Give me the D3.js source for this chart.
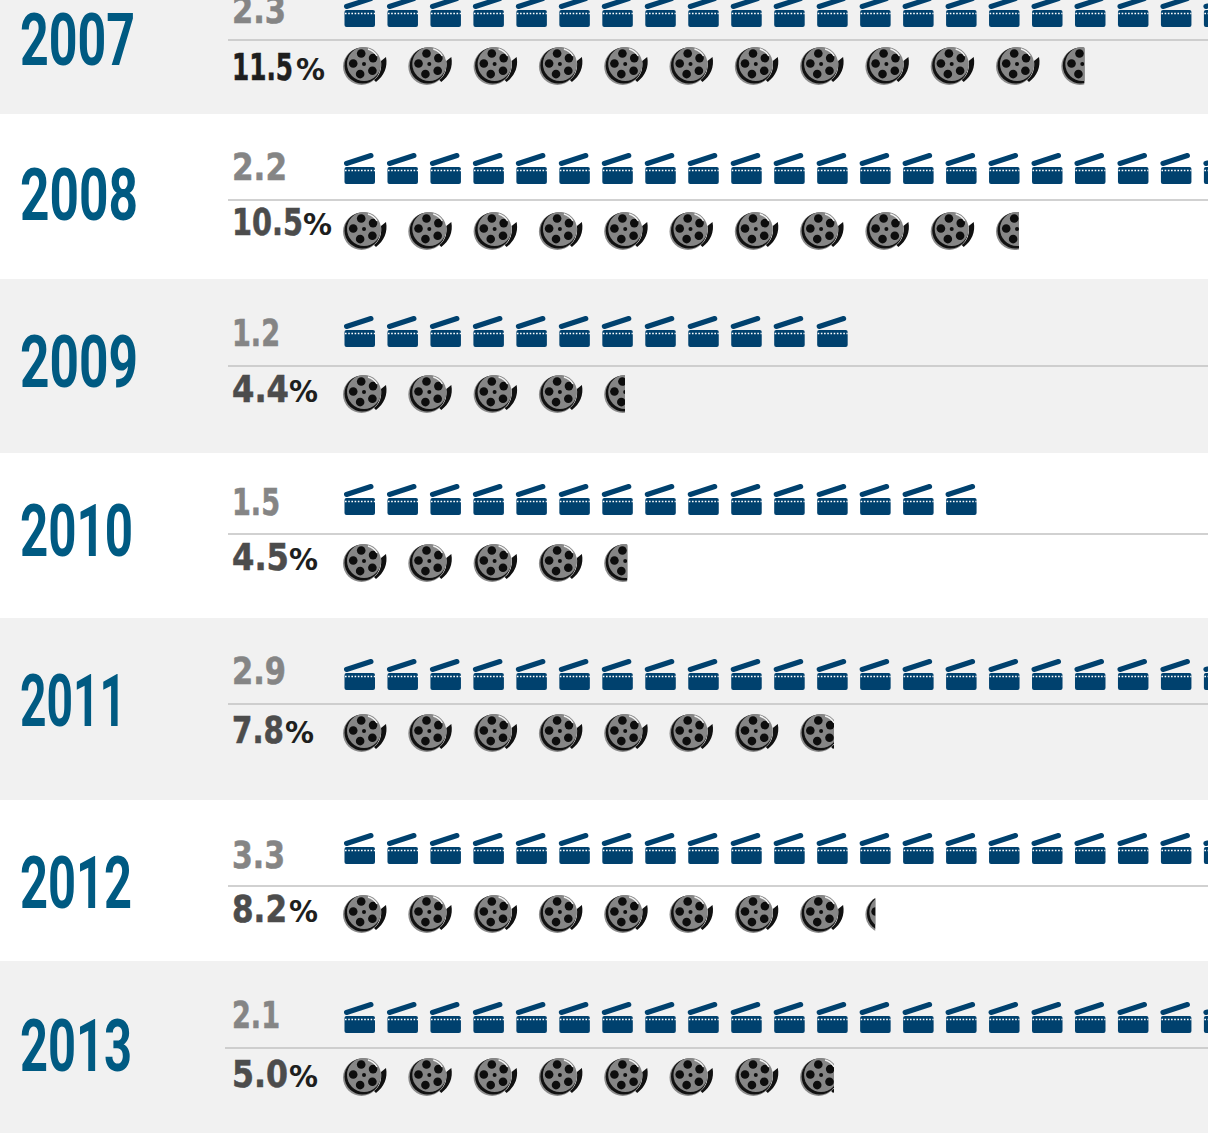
<!DOCTYPE html>
<html>

<head>
    <meta charset="utf-8">
    <style>
        html, body { margin: 0; padding: 0; background: #fff; }
        svg { display: block; }
        .year { font-family: "Roboto", sans-serif; font-weight: 700; font-size: 73px; fill: #005a82; }
        .count { font-family: "DejaVu Sans", sans-serif; font-weight: 700; font-size: 37px; fill: #858585; stroke: #858585; stroke-width: 0.6; }
        .share { font-family: "DejaVu Sans", sans-serif; font-weight: 700; font-size: 37px; fill: #4c4c4c; stroke: #4c4c4c; stroke-width: 0.6; }
        .pct { font-family: "DejaVu Sans", sans-serif; font-weight: 700; font-size: 30px; fill: #1e1e1e; }
        .rule { stroke: #c2c2c2; stroke-width: 1.5; }
    </style>
</head>

<body>
    <svg width="1208" height="1133"></svg>
</body>

<script src="https://d3js.org/d3.v7.min.js"></script>
<script>
    const years = ["2007", "2008", "2009", "2010", "2011", "2012", "2013"];
    const admissions = [2.3, 2.2, 1.2, 1.5, 2.9, 3.3, 2.1];
    const shareLabels = ["11.5", "10.5", "4.4", "4.5", "7.8", "8.2", "5.0"];
    // reels as drawn in the original, 2013 shows more reels than its label says
    const reelCounts = [11.5, 10.5, 4.45, 4.5, 7.75, 8.2, 7.75];

    // layout per row
    const bandTops = [0, 114, 279, 453, 618, 800, 961, 1133];
    const ruleYs = [40, 200, 366, 534, 704, 886, 1048];
    const clapBottoms = [27, 184, 347, 515, 690, 864, 1033];
    const reelCentres = [64, 229, 392, 561, 731, 912, 1075];
    const countBase = [23, 180, 346, 515, 684, 868, 1028];
    const shareBase = [80, 235, 402, 570, 743, 922, 1087];
    const yearBase = [65, 220, 387, 556, 726, 908, 1071];
    const yearWidths = [115, 118, 118, 113, 106, 112, 112];
    const countWidths = [54, 55, 48, 48, 54, 53, 48];
    const shareWidths = [61, 71, 57, 57, 52, 55, 56];
    const pctEnds = [325, 332, 318, 318, 314, 318, 318];

    const svg = d3.select("svg");

    let clapX = d3.scaleLinear().domain([0, 1]).range([344, 344 + 429.7]);
    let reelX = d3.scaleLinear().domain([0, 1]).range([344, 344 + 65.3]);

    let rows = years.map((y, i) => ({
        year: y, i: i, admissions: admissions[i], share: shareLabels[i], reels: reelCounts[i]
    }));

    // icons
    let defs = svg.append("defs");

    let clap = defs.append("g").attr("id", "clap");
    clap.append("rect").attr("x", 0.5).attr("y", -17).attr("width", 30.5).attr("height", 17).attr("rx", 2).attr("fill", "#00416e");
    clap.append("line").attr("x1", 2.5).attr("y1", -20.5).attr("x2", 27).attr("y2", -28.5)
        .attr("stroke", "#00416e").attr("stroke-width", 5).attr("stroke-linecap", "round");
    clap.append("line").attr("x1", 1).attr("y1", -13.5).attr("x2", 31).attr("y2", -13.5)
        .attr("stroke", "#fff").attr("stroke-width", 1.6).attr("stroke-dasharray", "1.6 1.6");

    let reel = defs.append("g").attr("id", "reel");
    reel.append("circle").attr("cx", -2.5).attr("cy", 2.5).attr("r", 18.5).attr("fill", "#8c8c8c");
    reel.append("circle").attr("cx", -1.5).attr("cy", 1.5).attr("r", 18).attr("fill", "#111");
    reel.append("path").attr("d", "M 10 16 C 16 12 18 4 17 -3 L 22 -7 C 24 3 20 12 12 18 Z").attr("fill", "#111");
    reel.append("circle").attr("r", 17).attr("fill", "#868686");
    d3.range(5).forEach(k => {
        let a = (k * 72 - 105) * Math.PI / 180;
        reel.append("circle")
            .attr("cx", 10.8 * Math.cos(a)).attr("cy", 10.8 * Math.sin(a))
            .attr("r", 4.3).attr("fill", "#0d0d0d");
    });
    reel.append("circle").attr("r", 2).attr("fill", "#0d0d0d");
    reel.append("path").attr("d", "M 4 -15 A 15.5 15.5 0 0 1 13 -8").attr("fill", "none").attr("stroke", "#f4f4f4").attr("stroke-width", 1.4);

    // cut-off for the last, partial reel of each row
    rows.forEach(d => {
        let whole = Math.floor(d.reels);
        let left = reelX(whole);
        defs.append("clipPath").attr("id", "cut" + d.i)
            .append("rect")
            .attr("x", left - 2).attr("y", reelCentres[d.i] - 25)
            .attr("width", 2 + (d.reels - whole) * 44).attr("height", 50);
    });

    svg.selectAll(".band")
        .data(rows)
        .join("rect")
        .attr("class", "band")
        .attr("x", 0)
        .attr("width", 1208)
        .attr("y", d => bandTops[d.i])
        .attr("height", d => bandTops[d.i + 1] - bandTops[d.i])
        .attr("fill", d => d.i % 2 ? "#fff" : "#f1f1f1");

    svg.selectAll(".rule")
        .data(rows)
        .join("line")
        .attr("class", "rule")
        .attr("x1", d => d.year === "2013" ? 225 : 228)
        .attr("x2", 1208)
        .attr("y1", d => ruleYs[d.i])
        .attr("y2", d => ruleYs[d.i]);

    svg.selectAll(".year")
        .data(rows)
        .join("text")
        .attr("class", "year")
        .attr("x", 20)
        .attr("y", d => yearBase[d.i])
        .attr("textLength", d => yearWidths[d.i])
        .attr("lengthAdjust", "spacingAndGlyphs")
        .text(d => d.year);

    svg.selectAll(".count")
        .data(rows)
        .join("text")
        .attr("class", "count")
        .attr("x", 232)
        .attr("y", d => countBase[d.i])
        .attr("textLength", d => countWidths[d.i])
        .attr("lengthAdjust", "spacingAndGlyphs")
        .text(d => d.admissions.toFixed(1));

    svg.selectAll(".share")
        .data(rows)
        .join("text")
        .attr("class", "share")
        .attr("x", 232)
        .attr("y", d => shareBase[d.i])
        .attr("textLength", d => shareWidths[d.i])
        .attr("lengthAdjust", "spacingAndGlyphs")
        .style("fill", d => d.i === 0 ? "#1e1e1e" : null)
        .style("stroke", d => d.i === 0 ? "#1e1e1e" : null)
        .text(d => d.share);

    svg.selectAll(".pct")
        .data(rows)
        .join("text")
        .attr("class", "pct")
        .attr("x", d => pctEnds[d.i] - 29)
        .attr("y", d => shareBase[d.i])
        .attr("textLength", 29)
        .attr("lengthAdjust", "spacingAndGlyphs")
        .text("%");

    // one clapper per 0.1
    svg.selectAll(".claps")
        .data(rows)
        .join("g")
        .attr("class", "claps")
        .selectAll("use")
        .data(d => d3.range(Math.round(d.admissions * 10)).map(k => ({ k: k, i: d.i })))
        .join("use")
        .attr("href", "#clap")
        .attr("x", d => clapX(d.k / 10))
        .attr("y", d => clapBottoms[d.i]);

    // one reel per percent point, the last one is clipped to its fraction
    svg.selectAll(".reels")
        .data(rows)
        .join("g")
        .attr("class", "reels")
        .selectAll("g")
        .data(d => d3.range(Math.ceil(d.reels)).map(k => ({ k: k, i: d.i, partial: k === Math.floor(d.reels) })))
        .join("g")
        .attr("clip-path", d => d.partial ? `url(#cut${d.i})` : null)
        .append("use")
        .attr("href", "#reel")
        .attr("x", d => reelX(d.k) + 20)
        .attr("y", d => reelCentres[d.i]);
</script>

</html>
